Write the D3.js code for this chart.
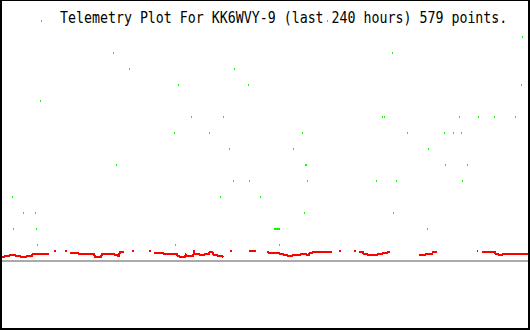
<!DOCTYPE html>
<html>
<head>
<meta charset="utf-8">
<script src="https://cdn.jsdelivr.net/npm/d3@7"></script>
<style>
  html, body { margin: 0; padding: 0; background: #fff; }
  svg { display: block; }
</style>
</head>
<body>
<script>
// ---- data ----
const title = "Telemetry Plot For KK6WVY-9 (last 240 hours) 579 points.";
const hoursSpan = [0, 240];
const levelDomain = [0, 15];

// green series: [hour, level]
const greenHours = [17.7,147.7,224.1, 236.4, 50.5,177.3, 57.7,105.5, 80,111.8,235.9, 17.3,
  85.9,100.5,172.7,173.6,207.7,216.4,223.6,233.2,
  78.2,94.1,136.4,184.1,200.9,205,208.6,
  103.2,132.3,193.6,
  51.8,137.7,138.2,201.4,211.4,
  105,112.3,138.6,170,179.1,209.1,
  4.5,99.1,117.3,
  9.5,15,137.3,177.7,
  5,15.5,123.6,124.1,124.5,125,125.5,125.9,193.2,
  15.9,78.6,125.9];
const greenLevels = [15,15,15, 14, 13,13, 12,12, 11,11,11, 10,
  9,9,9,9,9,9,9,9,
  8,8,8,8,8,8,8,
  7,7,7,
  6,6,6,6,6,
  5,5,5,5,5,5,
  4,4,4,
  3,3,3,3,
  2,2,2,2,2,2,2,2,2,
  1,1,1];

// red series: hour and value; null value = gap in the trace
const redHours = [0,0.9,1.4,3.2,3.6,5.9,6.4,8.2,8.6,10.9,11.4,13.6,14.1,21.4, null,
  24.1, null, 29.1, null,
  30.9,34.5,35,41.8,42.3,45,45.5,50.9,51.4,52.3,52.7,53.2,53.6,55.5, null,
  59.5, null, 67.3, null,
  69.1,73.2,73.6,79.5,80,81.4,83.2,83.6,84.1,86.8,87.3,87.7,89.5,90,91.8,92.3,94.1,94.5,95.5,95.9,96.4,97.7,98.2,100,100.5, null,
  104.1, null,
  112.3,115.5, null,
  120.5,121.4,125.9,126.4,127.7,128.2,129.5,130,131.8,132.3,135.5,135.9,138.2,138.6,139.5,140,140.9,141.4,150, null,
  153.6, null, 160.5, null,
  162.3,164.1,164.5,165.9,166.4,170.5,170.9,172.7,173.2,175,175.5,176.4, null,
  189.5,192.3,192.7,195.5,195.9,197.7, null,
  215.9,216.4, null,
  218.2,224.1,224.5,225.5,226,227.3,227.7,240];
const redValues = [.25,.25,.31,.31,.38,.38,.31,.31,.25,.25,.31,.31,.44,.44, null,
  .62, null, .62, null,
  .5,.5,.44,.44,.25,.25,.44,.44,.38,.38,.31,.31,.56,.56, null,
  .62, null, .62, null,
  .5,.5,.44,.44,.31,.25,.25,.38,.31,.31,.56,.44,.44,.38,.38,.44,.44,.56,.56,.44,.38,.38,.31,.31,.25, null,
  .62, null,
  .62,.62, null,
  .56,.5,.5,.44,.44,.38,.38,.31,.31,.38,.38,.44,.44,.38,.38,.5,.5,.56,.56, null,
  .62, null, .62, null,
  .56,.56,.44,.44,.38,.38,.44,.44,.5,.5,.56,.56, null,
  .38,.38,.44,.44,.56,.56, null,
  .62,.62, null,
  .56,.56,.44,.44,.38,.38,.44,.44];

// ---- drawing ----
const W = 530, H = 330;
const svg = d3.select("body").append("svg").attr("width", W).attr("height", H)
  .attr("shape-rendering", "crispEdges");

svg.append("rect").attr("width", W).attr("height", H).attr("fill", "#fff");

const x = d3.scaleLinear().domain(hoursSpan).range([2, 530]);
const y = d3.scaleLinear().domain(levelDomain).range([261, 21]);

// baseline
svg.append("line")
  .attr("x1", x(hoursSpan[0])).attr("x2", x(hoursSpan[1]))
  .attr("y1", y(0)).attr("y2", y(0))
  .attr("stroke", "#aaaaaa").attr("stroke-width", 2);

// red trace
const redPts = redHours.map((h, i) => ({h, v: redValues[i]}));
const line = d3.line().defined(d => d.v !== null).x(d => x(d.h)).y(d => y(d.v));
svg.append("path").attr("d", line(redPts))
  .attr("fill", "none").attr("stroke", "#ff0000").attr("stroke-width", 2.2)
  .attr("stroke-linejoin", "miter");
// isolated red points
const iso = redPts.filter((d, i) => d.v !== null &&
  (i === 0 || redPts[i-1].v === null) && (i === redPts.length-1 || redPts[i+1].v === null));
svg.append("g").selectAll("rect").data(iso).join("rect")
  .attr("x", d => Math.round(x(d.h)) - 1).attr("y", d => y(d.v) - 1)
  .attr("width", 2).attr("height", 2).attr("fill", "#ff0000");

// green points
const greenPts = greenHours.map((h, i) => ({h, v: greenLevels[i]}));
svg.append("g").selectAll("rect").data(greenPts).join("rect")
  .attr("x", d => Math.round(x(d.h))).attr("y", d => y(d.v) - 1)
  .attr("width", 1).attr("height", 2).attr("fill", "#00ff00");

// title
svg.append("text")
  .attr("transform", "translate(60,23) scale(0.885,1)")
  .attr("font-family", "'DejaVu Sans Mono', 'Liberation Mono', monospace")
  .attr("font-size", 15).attr("fill", "#000")
  .style("white-space", "pre")
  .text(title);

// frame
svg.append("rect").attr("x", 0).attr("y", 0).attr("width", W).attr("height", 1).attr("fill", "#000");
svg.append("rect").attr("x", 0).attr("y", H - 2).attr("width", W).attr("height", 2).attr("fill", "#000");
svg.append("rect").attr("x", 0).attr("y", 0).attr("width", 2).attr("height", H).attr("fill", "#000");
svg.append("rect").attr("x", W - 2).attr("y", 0).attr("width", 2).attr("height", H).attr("fill", "#000");
</script>
</body>
</html>
